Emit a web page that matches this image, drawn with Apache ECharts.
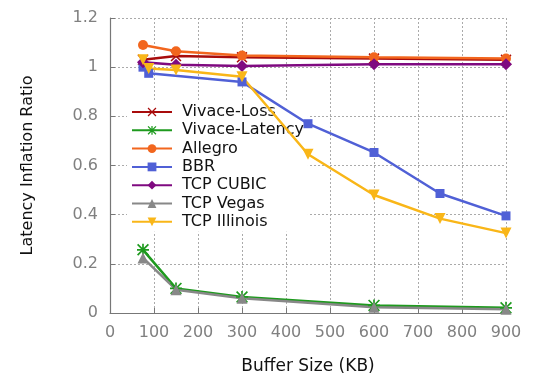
<!DOCTYPE html>
<html>
<head>
<meta charset="utf-8">
<script src="https://cdn.jsdelivr.net/npm/echarts@6/dist/echarts.min.js"></script>
<style>
  html, body { margin: 0; padding: 0; background: #fff; }
  #chart { width: 540px; height: 378px; }
</style>
</head>
<body>
<div id="chart"></div>
<script>
// Buffer sizes (KB) for each protocol's measurements
const xVivaceLoss = [75, 150, 300, 600, 900];
const yVivaceLoss = [1.03, 1.045, 1.04, 1.035, 1.03];

const xVivaceLatency = [75, 150, 300, 600, 900];
const yVivaceLatency = [0.257, 0.1, 0.065, 0.031, 0.021];

const xAllegro = [75, 150, 300, 600, 900];
const yAllegro = [1.09, 1.065, 1.047, 1.04, 1.035];

const xBBR = [75, 88, 300, 450, 600, 750, 900];
const yBBR = [1.0, 0.975, 0.94, 0.77, 0.653, 0.486, 0.395];

const xCubic = [75, 150, 300, 600, 900];
const yCubic = [1.02, 1.01, 1.005, 1.012, 1.012];

const xVegas = [75, 150, 300, 600, 900];
const yVegas = [0.224, 0.095, 0.06, 0.023, 0.015];

const xIllinois = [75, 88, 150, 300, 450, 600, 750, 900];
const yIllinois = [1.03, 0.995, 0.988, 0.961, 0.646, 0.48, 0.384, 0.325];

const xTicks = [0, 900, 100];     // min, max, step
const yTicks = [0, 1.2, 0.2];

// Marker shapes built as filled paths
const crossPath = 'path://M0 1 L1 0 L10 9 L9 10 Z M9 0 L10 1 L1 10 L0 9 Z';
const starPath = 'path://M0 1 L1 0 L10 9 L9 10 Z M9 0 L10 1 L1 10 L0 9 Z M4.3 0 L5.7 0 L5.7 10 L4.3 10 Z M0 4.3 L10 4.3 L10 5.7 L0 5.7 Z';

function pairs(xs, ys) { return xs.map((x, i) => [x, ys[i]]); }

function lineSeries(name, xs, ys, color, symbol, size) {
  return {
    name: name,
    type: 'line',
    data: pairs(xs, ys),
    symbol: symbol,
    symbolSize: size,
    showAllSymbol: true,
    lineStyle: { color: color, width: 2.5 },
    itemStyle: { color: color },
    emphasis: { disabled: true },
    animation: false
  };
}

const chart = echarts.init(document.getElementById('chart'), null, { renderer: 'canvas' });

const gray = '#808080';
const font = 'DejaVu Sans';

chart.setOption({
  backgroundColor: '#fff',
  textStyle: { fontFamily: font },
  grid: { left: 110, right: 34, top: 18, bottom: 65, containLabel: false, outerBoundsMode: 'none' },
  legend: {
    orient: 'vertical',
    left: 127,
    top: 102,
    z: 1,
    backgroundColor: '#fff',
    padding: [2, 4, 2, 4],
    itemWidth: 40,
    itemHeight: 11,
    itemGap: 2.3,
    textStyle: { fontFamily: font, fontSize: 16, color: '#111', padding: [0, 0, 0, 5] },
    data: ['Vivace-Loss', 'Vivace-Latency', 'Allegro', 'BBR', 'TCP CUBIC', 'TCP Vegas', 'TCP Illinois']
  },
  xAxis: {
    type: 'value',
    min: xTicks[0],
    max: xTicks[1],
    interval: xTicks[2],
    name: 'Buffer Size (KB)',
    nameLocation: 'middle',
    nameGap: 45,
    nameTextStyle: { fontFamily: font, fontSize: 17, color: '#111' },
    axisLine: { lineStyle: { color: '#777', width: 1.2 } },
    axisTick: { inside: true, length: 5, lineStyle: { color: '#777' } },
    axisLabel: { fontFamily: font, fontSize: 16, color: gray, margin: 12 },
    splitLine: { show: true, lineStyle: { color: '#aaa', type: [2, 2], width: 1 } }
  },
  yAxis: {
    type: 'value',
    min: yTicks[0],
    max: yTicks[1],
    interval: yTicks[2],
    name: 'Latency Inflation Ratio',
    nameLocation: 'middle',
    nameGap: 74,
    nameTextStyle: { fontFamily: font, fontSize: 16, color: '#111' },
    axisLine: { show: true, lineStyle: { color: '#777', width: 1.2 } },
    axisTick: { show: true, inside: true, length: 5, lineStyle: { color: '#777' } },
    axisLabel: { fontFamily: font, fontSize: 16, color: gray, margin: 12 },
    splitLine: { show: true, lineStyle: { color: '#aaa', type: [2, 2], width: 1 } }
  },
  series: [
    lineSeries('Vivace-Loss', xVivaceLoss, yVivaceLoss, '#a80c0c', crossPath, 11),
    lineSeries('Vivace-Latency', xVivaceLatency, yVivaceLatency, '#1e9a1e', starPath, 12),
    lineSeries('Allegro', xAllegro, yAllegro, '#f2661e', 'circle', 10),
    lineSeries('BBR', xBBR, yBBR, '#5060d6', 'rect', 9),
    lineSeries('TCP CUBIC', xCubic, yCubic, '#7f0a80', 'diamond', 12),
    lineSeries('TCP Vegas', xVegas, yVegas, '#888888', 'triangle', 11),
    lineSeries('TCP Illinois', xIllinois, yIllinois, '#f9b618', 'path://M0 0 L10 0 L5 9 Z', 11)
  ]
});
</script>
</body>
</html>
